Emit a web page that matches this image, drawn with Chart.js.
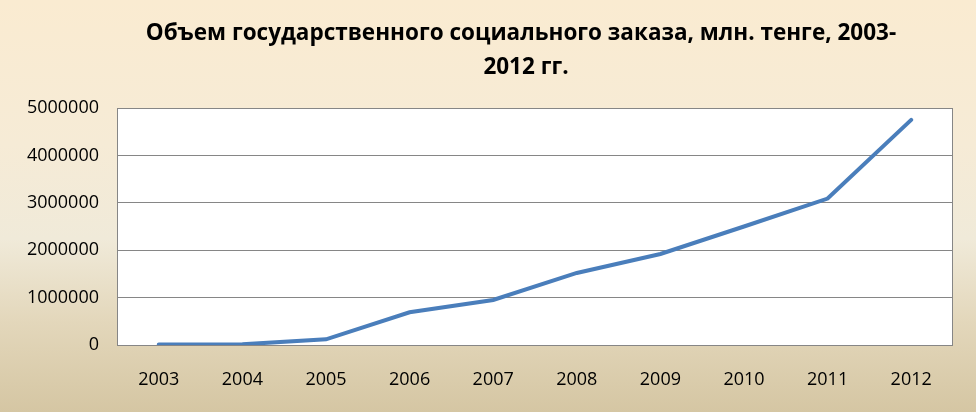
<!DOCTYPE html>
<html>
<head>
<meta charset="utf-8">
<script src="https://cdn.jsdelivr.net/npm/chart.js@4"></script>
<style>
    html, body { margin: 0; padding: 0; }
    body {
        width: 976px;
        height: 412px;
        background: linear-gradient(to bottom, #FAEBD1 0%, #F6EBD6 35%, #F0EAD9 58%, #E3D7BB 78%, #D5C6A3 100%);
    }
    #wrap { width: 976px; height: 412px; }
</style>
</head>
<body>
<div id="wrap"><canvas id="myChart"></canvas></div>
<script>
'use strict';

var titleLines = ['Объем государственного социального заказа, млн. тенге, 2003-', '2012 гг.'];
var years = ['2003', '2004', '2005', '2006', '2007', '2008', '2009', '2010', '2011', '2012'];
var volume = [10000, 15000, 120000, 690000, 950000, 1520000, 1920000, 2500000, 3090000, 4750000];
var yTicks = [0, 1000000, 2000000, 3000000, 4000000, 5000000];

var gridColor = '#868686';

// white plot area, box border and the title over the plot
var plotBox = {
    id: 'plotBox',
    beforeDraw: function(chart) {
        var ctx = chart.ctx;
        var a = chart.chartArea;
        ctx.save();
        ctx.fillStyle = '#ffffff';
        ctx.fillRect(a.left, a.top, a.right - a.left, a.bottom - a.top);
        ctx.restore();
    },
    beforeDatasetsDraw: function(chart) {
        var ctx = chart.ctx;
        var a = chart.chartArea;
        ctx.save();
        ctx.strokeStyle = gridColor;
        ctx.lineWidth = 1;
        ctx.strokeRect(a.left + 0.5, a.top + 0.5, a.right - a.left - 1, a.bottom - a.top);
        ctx.restore();
    },
    afterDraw: function(chart) {
        var ctx = chart.ctx;
        var cx = (chart.chartArea.left + chart.chartArea.right) / 2 - 14;
        ctx.save();
        ctx.fillStyle = '#000000';
        ctx.font = 'bold 22.5px "Open Sans"';
        ctx.textAlign = 'center';
        ctx.textBaseline = 'middle';
        ctx.fillText(titleLines[0], cx, 34);
        ctx.fillText(titleLines[1], cx + 5, 68);
        ctx.restore();
    }
};

var ctx = document.getElementById('myChart').getContext('2d');

var chart = new Chart(ctx, {
    type: 'line',
    data: {
        labels: years,
        datasets: [{
            label: 'Объем',
            data: volume,
            borderColor: '#4A7EBB',
            backgroundColor: '#4A7EBB',
            borderWidth: 4,
            pointRadius: 0,
            tension: 0,
            borderCapStyle: 'round'
        }]
    },
    options: {
        responsive: true,
        maintainAspectRatio: false,
        animation: false,
        layout: {
            padding: { top: 108, left: 0, right: 23, bottom: 0 }
        },
        plugins: {
            legend: { display: false },
            title: { display: false },
            tooltip: { enabled: false }
        },
        scales: {
            x: {
                offset: true,
                grid: { display: false, drawTicks: false },
                border: { display: false },
                ticks: {
                    color: '#000000',
                    padding: 24,
                    font: { family: 'Open Sans', size: 18 }
                },
                afterFit: function(scale) { scale.height = 67; }
            },
            y: {
                min: 0,
                max: 5000000,
                afterBuildTicks: function(scale) {
                    scale.ticks = yTicks.map(function(v) { return { value: v }; });
                },
                grid: { color: gridColor, drawTicks: false, lineWidth: 1 },
                border: { display: false },
                ticks: {
                    color: '#000000',
                    padding: 18,
                    font: { family: 'Open Sans', size: 18 },
                    callback: function(v) { return String(v); }
                },
                afterFit: function(scale) { scale.width = 117; }
            }
        }
    },
    plugins: [plotBox]
});
</script>
</body>
</html>
